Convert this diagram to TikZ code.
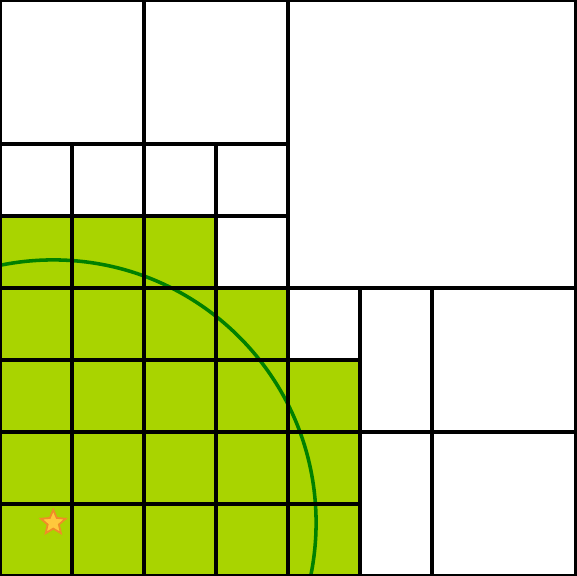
\documentclass[tikz,border=0pt]{standalone}
\usepackage{tikz}
\usetikzlibrary{shapes.geometric}
\definecolor{leaf}{HTML}{A9D400}
\definecolor{ring}{HTML}{008000}
\definecolor{gold}{HTML}{FFC83C}
\definecolor{amber}{HTML}{F08C28}
\tikzset{
  every picture/.style={line join=miter, line cap=rect},
  gridline/.style={line width=1.55pt, black},
}

\begin{document}
\begin{tikzpicture}
\useasboundingbox (0,0) rectangle (8,8);
% cells inside the disc
\fill[leaf] (0,0)--(5,0)--(5,3)--(4,3)--(4,4)--(3,4)--(3,5)--(0,5)--cycle;
\draw[ring, line width=1.4pt] (0.74,0.74) circle (3.65);
% tree cells
\draw[gridline] (0,1)--(5,1)
(0,2)--(8,2)
(0,3)--(5,3)
(0,4)--(8,4)
(0,5)--(4,5)
(0,6)--(4,6);
\draw[gridline] (1,0)--(1,6)
(2,0)--(2,8)
(3,0)--(3,6)
(4,0)--(4,8)
(5,0)--(5,4)
(6,0)--(6,4);
\draw[gridline] (0,0) rectangle (8,8);
\node (query) [star, star points=5, star point ratio=2.2, minimum size=0.36cm, inner sep=0pt,
  fill=gold, draw=amber, line width=0.7pt] at (0.74,0.74) {};
\end{tikzpicture}
\end{document}
